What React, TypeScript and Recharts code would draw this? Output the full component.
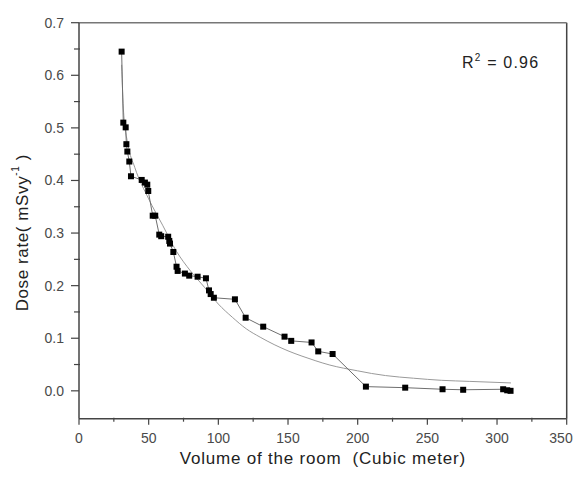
import React from "react";
import {
  ComposedChart,
  Scatter,
  Line,
  XAxis,
  YAxis,
  ReferenceLine,
} from "recharts";

// Measured points: room volume (m^3) and dose rate (mSv/y)
const volumes = [
  30.6, 31.8, 33.5, 34.0, 34.7, 36.1, 37.3, 45, 47.3, 49, 49.7, 52.9, 54.7,
  57.6, 59, 64, 64.8, 65.3, 67.7, 70, 70.8, 76, 79.1, 85.1, 91.1, 93.3, 94.5,
  96.8, 111.9, 119.6, 132.2, 147.5, 152.3, 166.9, 171.7, 182, 205.9, 234.1,
  260.9, 275.7, 304.4, 307.3, 309.7,
];
const doseRates = [
  0.645, 0.51, 0.501, 0.469, 0.455, 0.436, 0.408, 0.401, 0.396, 0.392, 0.38,
  0.333, 0.333, 0.297, 0.294, 0.293, 0.285, 0.28, 0.264, 0.236, 0.228, 0.223,
  0.219, 0.217, 0.214, 0.191, 0.184, 0.177, 0.174, 0.139, 0.122, 0.103, 0.095,
  0.092, 0.075, 0.07, 0.008, 0.006, 0.003, 0.002, 0.003, 0.001, 0.0,
];

// Fitted curve
const fitVolumes = [
  30.6, 32, 35, 40, 50, 60, 70, 80, 90, 100, 110, 120, 130, 140, 150, 160, 170,
  180, 190, 200, 210, 220, 240, 260, 280, 300, 310,
];
const fitDoses = [
  0.62, 0.53, 0.47, 0.425, 0.365, 0.315, 0.265, 0.228, 0.197, 0.165, 0.14,
  0.118, 0.102, 0.088, 0.076, 0.066, 0.057, 0.049, 0.043, 0.038, 0.033, 0.029,
  0.024, 0.02, 0.018, 0.016, 0.015,
];

const xTicks = [0, 25, 50, 75, 100, 125, 150, 175, 200, 225, 250, 275, 300, 325, 350];
const yTicks = [
  0, 0.05, 0.1, 0.15, 0.2, 0.25, 0.3, 0.35, 0.4, 0.45, 0.5, 0.55, 0.6, 0.65, 0.7,
];

const measured = volumes.map((x, i) => ({ x, y: doseRates[i] }));
const fitted = fitVolumes.map((x, i) => ({ x, y: fitDoses[i] }));

const AXIS = "#444";
const TEXT = "#4a4a4a";
const FONT = "'Liberation Sans', Arial, sans-serif";

const XTick = (props: any) => {
  const { x, y, payload, index, visibleTicksCount } = props;
  const v = payload.value;
  const major = Math.round(v) % 50 === 0;
  const last = index === (visibleTicksCount ?? xTicks.length) - 1;
  return (
    <g>
      <line
        x1={x}
        x2={x}
        y1={major ? y : y - 1}
        y2={y + (major ? 6 : 3)}
        stroke={AXIS}
        strokeWidth={1.2}
      />
      {major && (
        <text
          x={last ? x + 6 : x}
          y={y + 24.5}
          textAnchor={last ? "end" : "middle"}
          fill={TEXT}
          fontSize={14}
          fontFamily={FONT}
        >
          {String(v)}
        </text>
      )}
    </g>
  );
};

const YTick = (props: any) => {
  const { x, y, payload } = props;
  const v = payload.value;
  const k = Math.round(v * 100);
  const major = k % 10 === 0;
  return (
    <g>
      <line
        x1={major ? x : x + 1}
        x2={x - (major ? 8 : 5)}
        y1={y}
        y2={y}
        stroke={AXIS}
        strokeWidth={1.2}
      />
      {major && (
        <text x={x - 15} y={y + 5} textAnchor="end" fill={TEXT} fontSize={14} fontFamily={FONT}>
          {v.toFixed(1)}
        </text>
      )}
    </g>
  );
};

const XLabel = (props: any) => {
  const { x, y, width, height } = props.viewBox;
  return (
    <text
      x={x + width / 2}
      y={y + height - 13}
      textAnchor="middle"
      fill="#222"
      fontSize={17}
      letterSpacing={0.8}
      fontFamily={FONT}
      style={{ whiteSpace: "pre" }}
    >
      {"Volume of the room  (Cubic meter)"}
    </text>
  );
};

const YLabel = (props: any) => {
  const { x, y, height } = props.viewBox;
  const cx = x + 3;
  const cy = y + height / 2 + 12;
  return (
    <text
      x={cx}
      y={cy}
      transform={`rotate(-90, ${cx}, ${cy})`}
      textAnchor="middle"
      dominantBaseline="central"
      fill="#222"
      fontSize={17}
      letterSpacing={0.6}
      fontFamily={FONT}
      style={{ whiteSpace: "pre" }}
    >
      <tspan>Dose rate( mSvy</tspan>
      <tspan dy={-7} fontSize={10}>-1</tspan>
      <tspan dy={7}> )</tspan>
    </text>
  );
};

const Square = (props: any) => {
  const { cx, cy } = props;
  if (cx == null || cy == null) return null;
  return <rect x={cx - 3} y={cy - 3} width={6} height={6} fill="#000" />;
};

export default function App() {
  return (
    <div style={{ position: "relative", width: 582, height: 477, margin: -8 }}>
      <ComposedChart
        width={582}
        height={477}
        margin={{ top: 22.7, right: 15.3, bottom: 0, left: 19 }}
      >
        <XAxis
          type="number"
          dataKey="x"
          domain={[0, 350]}
          ticks={xTicks}
          interval={0}
          height={58.3}
          stroke={AXIS}
          strokeWidth={1.5}
          tickLine={false}
          tickSize={0}
          tickMargin={0}
          tick={<XTick />}
          allowDataOverflow
          label={(p: any) => <XLabel {...p} />}
        />
        <YAxis
          type="number"
          dataKey="y"
          domain={[-0.053, 0.7]}
          ticks={yTicks}
          interval={0}
          width={60}
          stroke={AXIS}
          strokeWidth={1.5}
          tickLine={false}
          tickSize={0}
          tickMargin={0}
          tick={<YTick />}
          allowDataOverflow
          label={(p: any) => <YLabel {...p} />}
        />
        <ReferenceLine x={350} stroke={AXIS} strokeWidth={1.5} />
        <ReferenceLine y={0.7} stroke="#777" strokeWidth={1.5} />
        <Line
          data={fitted}
          dataKey="y"
          type="monotone"
          stroke="#9a9a9a"
          strokeWidth={1}
          dot={false}
          activeDot={false}
          isAnimationActive={false}
        />
        <Scatter
          data={measured}
          dataKey="y"
          fill="#000"
          line={{ stroke: "#6e6e6e", strokeWidth: 1 }}
          shape={<Square />}
          isAnimationActive={false}
        />
      </ComposedChart>
      <svg
        width={582}
        height={477}
        style={{ position: "absolute", left: 0, top: 0, pointerEvents: "none" }}
      >
        <text x={462} y={68} fill="#222" fontSize={16} letterSpacing={1.2} fontFamily={FONT} style={{ whiteSpace: "pre" }}>
          <tspan>R</tspan>
          <tspan dy={-7} fontSize={10}>2</tspan>
          <tspan dy={7}>{" = 0.96"}</tspan>
        </text>
      </svg>
    </div>
  );
}
